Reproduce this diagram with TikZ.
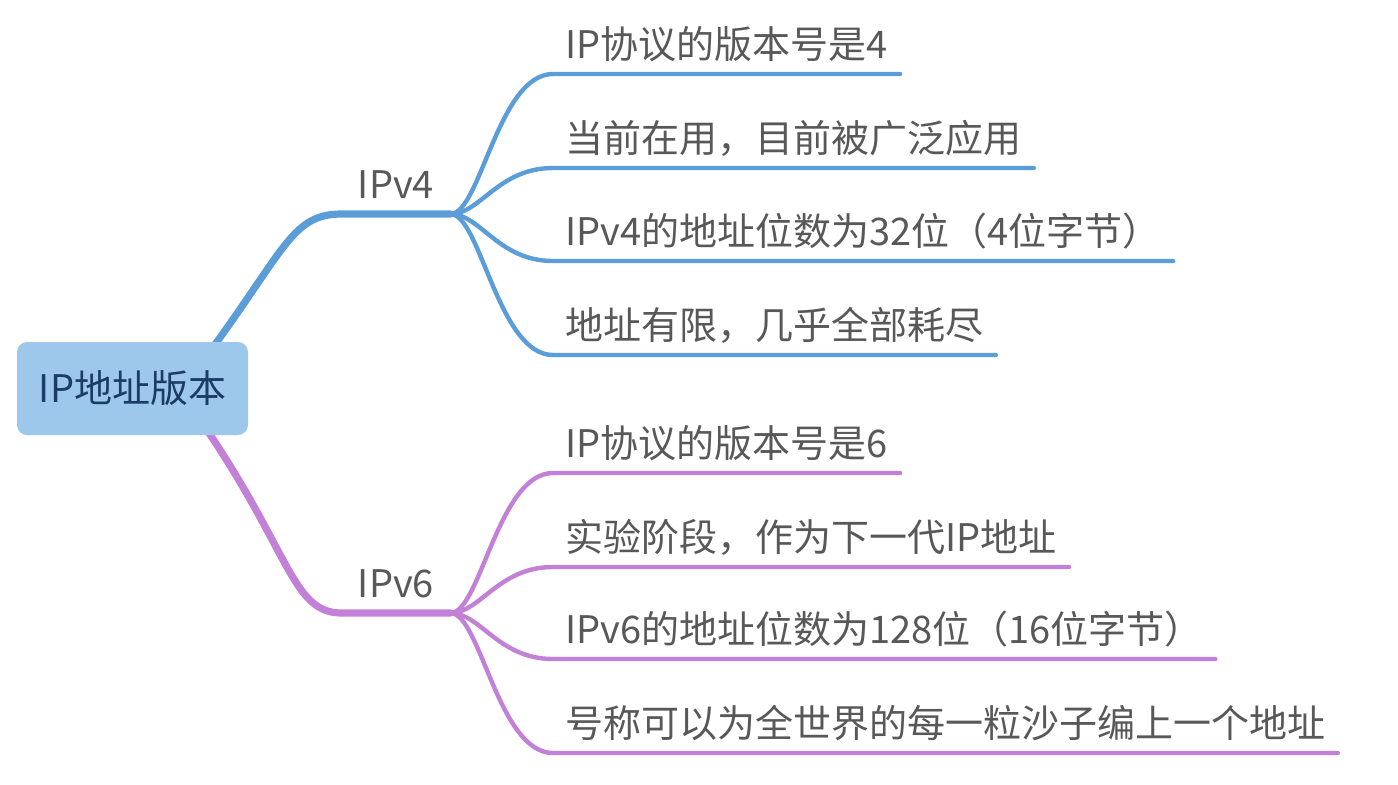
\documentclass[tikz,border=0pt]{standalone}
\usepackage{fontspec}
\setmainfont{Noto Sans CJK SC}
\usepackage{xcolor}
\usetikzlibrary{positioning, backgrounds}

\definecolor{vfour}{RGB}{91,157,217}
\definecolor{vsix}{RGB}{194,128,214}
\definecolor{topicfill}{RGB}{157,200,236}
\definecolor{topicink}{RGB}{28,60,104}
\definecolor{leafink}{RGB}{88,88,88}

\tikzset{
  topic/.style={fill=topicfill, text=topicink, rounded corners=5pt,
    minimum width=115.5pt, minimum height=46.5pt, inner sep=0pt},
  branch/.style={anchor=south, text=leafink, minimum width=54pt,
    text depth=0pt, inner ysep=7.8pt, inner xsep=0pt},
  leaf/.style={anchor=south west, text=leafink, text depth=0pt,
    inner ysep=7.8pt, inner xsep=6pt},
  mainline/.style={line width=3.6pt, line cap=round},
  twig/.style={line width=2.2pt, line cap=round},
}

\begin{document}
\begin{tikzpicture}[x=0.5pt, y=-0.5pt, font=\fontsize{19}{23}\selectfont]
  \useasboundingbox (0,0) rectangle (1398,784);

  \node[topic] (root) at (132.5,388.5) {IP地址版本};

  \node[branch] (v4) at (396,214) {IPv4};
  \node[branch] (v6) at (396,613) {IPv6};

  % IPv4 leaves
  \node[leaf] (a1) at (553,74) {IP协议的版本号是4};
  \node[leaf] (a2) at (553,168) {当前在用，目前被广泛应用};
  \node[leaf] (a3) at (553,261) {IPv4的地址位数为32位（4位字节）};
  \node[leaf] (a4) at (553,355) {地址有限，几乎全部耗尽};

  % IPv6 leaves
  \node[leaf] (b1) at (553,473) {IP协议的版本号是6};
  \node[leaf] (b2) at (553,567) {实验阶段，作为下一代IP地址};
  \node[leaf] (b3) at (553,659) {IPv6的地址位数为128位（16位字节）};
  \node[leaf] (b4) at (553,753) {号称可以为全世界的每一粒沙子编上一个地址};

  \begin{scope}[on background layer]
    \draw[mainline, vfour] ([shift={(-43,16)}]root.north east)
      .. controls +(80,-108) and +(-50,0) .. (v4.south west) -- (v4.south east);
    \draw[mainline, vsix] ([shift={(-48,-15)}]root.south east)
      .. controls +(90,130) and +(-50,0) .. (v6.south west) -- (v6.south east);
  \end{scope}

  \foreach \leaf in {a1,a2,a3,a4}
    \draw[twig, vfour] (v4.south east) .. controls +(30,0) and +(-55,0)
      .. (\leaf.south west) -- (\leaf.south east);
  \foreach \leaf in {b1,b2,b3,b4}
    \draw[twig, vsix] (v6.south east) .. controls +(30,0) and +(-55,0)
      .. (\leaf.south west) -- (\leaf.south east);
\end{tikzpicture}
\end{document}
